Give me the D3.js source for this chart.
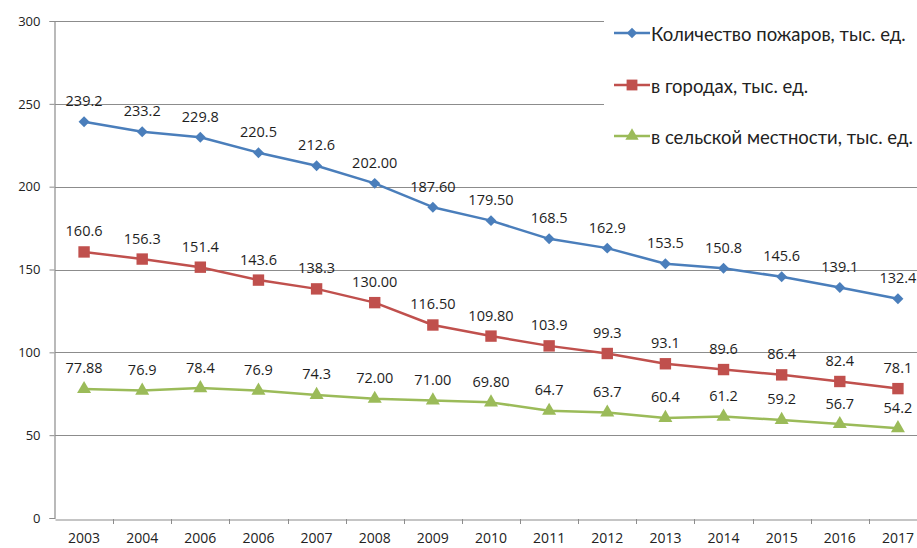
<!DOCTYPE html>
<html><head><meta charset="utf-8">
<script src="https://cdn.jsdelivr.net/npm/d3@7"></script>
<style>
body{margin:0;background:#fff;}
svg{display:block;font-family:"Open Sans","Liberation Sans",sans-serif;}
</style></head><body>
<svg id="chart" width="917" height="548"></svg>
<script>
const years = ["2003","2004","2006","2006","2007","2008","2009","2010","2011","2012","2013","2014","2015","2016","2017"];
const totalFires = [239.2,233.2,229.8,220.5,212.6,202.0,187.6,179.5,168.5,162.9,153.5,150.8,145.6,139.1,132.4];
const totalLabels = ["239.2","233.2","229.8","220.5","212.6","202.00","187.60","179.50","168.5","162.9","153.5","150.8","145.6","139.1","132.4"];
const cityFires = [160.6,156.3,151.4,143.6,138.3,130.0,116.5,109.8,103.9,99.3,93.1,89.6,86.4,82.4,78.1];
const cityLabels = ["160.6","156.3","151.4","143.6","138.3","130.00","116.50","109.80","103.9","99.3","93.1","89.6","86.4","82.4","78.1"];
const ruralFires = [77.88,76.9,78.4,76.9,74.3,72.0,71.0,69.8,64.7,63.7,60.4,61.2,59.2,56.7,54.2];
const ruralLabels = ["77.88","76.9","78.4","76.9","74.3","72.00","71.00","69.80","64.7","63.7","60.4","61.2","59.2","56.7","54.2"];
const seriesNames = ["Количество пожаров, тыс. ед.","в городах, тыс. ед.","в сельской местности, тыс. ед."];
const yTicks = [0,50,100,150,200,250,300];

const series = [
  {name:seriesNames[0], values:totalFires, labels:totalLabels, color:"#4a7ebb", shape:d3.symbolSquare, size:60, rot:45},
  {name:seriesNames[1], values:cityFires, labels:cityLabels, color:"#c0504d", shape:d3.symbolSquare, size:130, rot:0},
  {name:seriesNames[2], values:ruralFires, labels:ruralLabels, color:"#9bbb59", shape:d3.symbolTriangle, size:85, rot:0}
];

const svg = d3.select("#chart");
const x = d3.scaleBand().domain(d3.range(years.length)).range([55, 927]);
const y = d3.scaleLinear().domain([0,300]).range([518, 21]);
const cx = i => x(i) + x.bandwidth()/2;

// gridlines
svg.append("g").selectAll("line").data(yTicks.filter(t=>t>0)).join("line")
  .attr("x1",55).attr("x2",917)
  .attr("y1",d=>Math.round(y(d))+0.5).attr("y2",d=>Math.round(y(d))+0.5)
  .attr("stroke","#8c8c8c").attr("stroke-width",1.2);

// y axis
const yAxis = svg.append("g").attr("transform","translate(54.5,0)")
  .call(d3.axisLeft(y).tickValues(yTicks).tickSize(5).tickPadding(9));
yAxis.select(".domain").attr("stroke","#8c8c8c").attr("stroke-width",1.2);
yAxis.selectAll(".tick line").attr("stroke","#8c8c8c");
yAxis.selectAll("text").attr("font-size",13).attr("fill","#222").attr("font-family","'Open Sans',sans-serif");

// x axis
const xAxis = svg.append("g").attr("transform",`translate(0,${Math.round(y(0))+1.5})`)
  .call(d3.axisBottom(x).tickFormat(i=>years[i]).tickSize(0).tickPadding(14));
xAxis.select(".domain").attr("stroke","#8c8c8c").attr("stroke-width",1.2);
xAxis.selectAll("text").attr("font-size",14).attr("fill","#222").attr("font-family","'Open Sans',sans-serif");
svg.append("g").selectAll("line").data(d3.range(1,years.length+1)).join("line")
  .attr("x1",i=>Math.round(x(0)+i*x.step())+0.5).attr("x2",i=>Math.round(x(0)+i*x.step())+0.5)
  .attr("y1",y(0)+1).attr("y2",y(0)+6).attr("stroke","#8c8c8c");

// legend background
svg.append("rect").attr("x",604).attr("y",0).attr("width",313).attr("height",160).attr("fill","#fff");

const line = d3.line().x((d,i)=>cx(i)).y(d=>y(d));
series.forEach(s=>{
  const g = svg.append("g");
  g.append("path").datum(s.values).attr("d",line).attr("fill","none")
    .attr("stroke",s.color).attr("stroke-width",2.5).attr("stroke-linejoin","round");
  g.selectAll("path.m").data(s.values).join("path").attr("class","m")
    .attr("d",d3.symbol().type(s.shape).size(s.size))
    .attr("transform",(d,i)=>`translate(${cx(i)},${y(d)}) rotate(${s.rot})`)
    .attr("fill",s.color);
  g.selectAll("text").data(s.values).join("text")
    .attr("x",(d,i)=>cx(i)).attr("y",d=>y(d)-21)
    .attr("text-anchor","middle").attr("dominant-baseline","central")
    .attr("font-size",14.5).attr("fill","#1e1e1e")
    .text((d,i)=>s.labels[i]);
});

// legend
const legY = [33,85,136];
series.forEach((s,k)=>{
  const g = svg.append("g").attr("transform",`translate(0,${legY[k]})`);
  g.append("line").attr("x1",614).attr("x2",650).attr("y1",0).attr("y2",0)
    .attr("stroke",s.color).attr("stroke-width",2.5);
  g.append("path").attr("d",d3.symbol().type(s.shape).size(s.size*0.9))
    .attr("transform",`translate(632,0) rotate(${s.rot})`).attr("fill",s.color);
  g.append("text").attr("x",651).attr("y",1).attr("dominant-baseline","central")
    .attr("font-family","Lato,sans-serif")
    .attr("font-size",18.5).attr("fill","#222").text(s.name);
});
</script>
</body></html>
